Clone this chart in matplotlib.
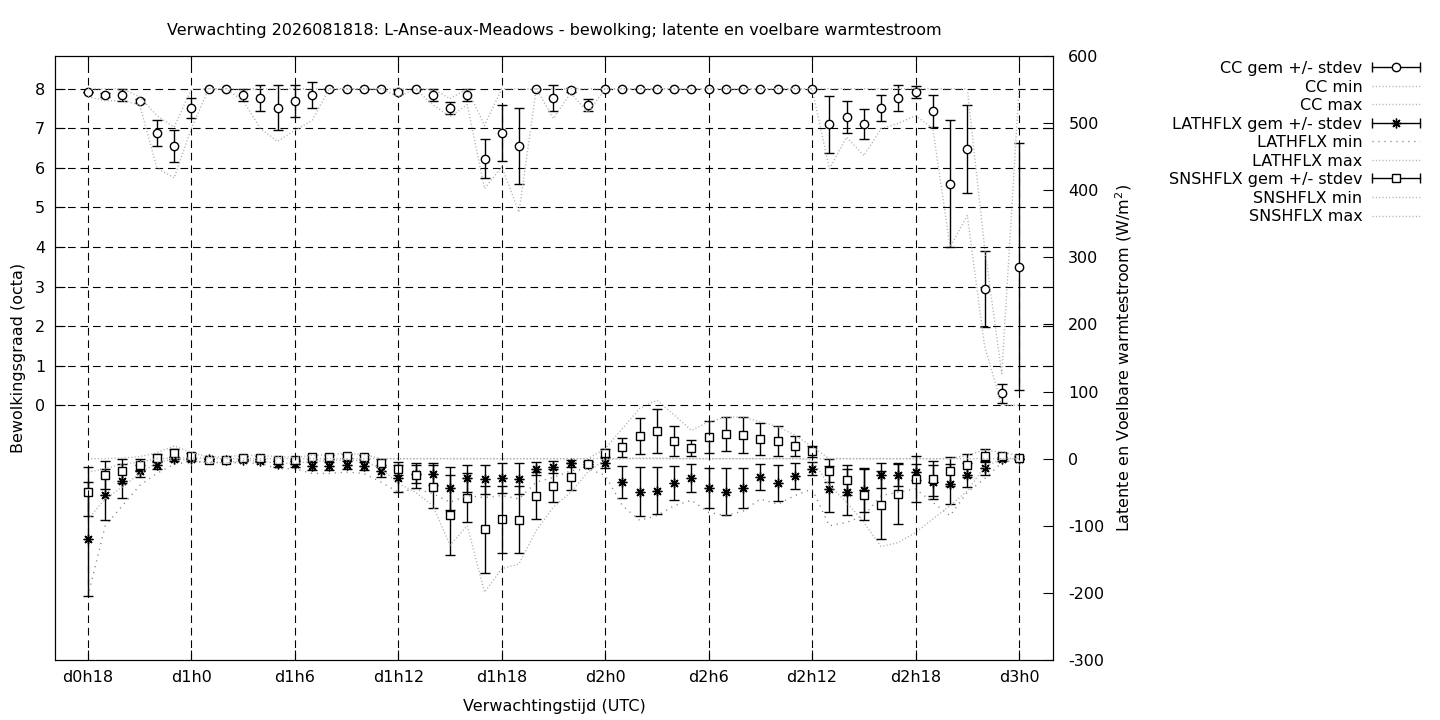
import matplotlib
matplotlib.use('Agg')
import matplotlib.pyplot as plt
from matplotlib.lines import Line2D
from matplotlib.legend_handler import HandlerBase
from matplotlib.container import ErrorbarContainer

plt.rcParams['font.family'] = ['DejaVu Sans']
plt.rcParams['font.size'] = 11.5
plt.rcParams['lines.scale_dashes'] = False
plt.rcParams['axes.unicode_minus'] = False

# uren sinds d0h0
uren = list(range(18, 73))

tick_uren = [18, 24, 30, 36, 42, 48, 54, 60, 66, 72]
tick_labels = ['d0h18', 'd1h0', 'd1h6', 'd1h12', 'd1h18', 'd2h0', 'd2h6', 'd2h12', 'd2h18', 'd3h0']

# bewolking (octa)
cc_gem = [7.93, 7.85, 7.85, 7.69, 6.89, 6.56, 7.52, 8.0, 8.0, 7.85, 7.77, 7.52, 7.69, 7.85, 8.0,
          8.0, 8.0, 8.0, 7.93, 8.0, 7.85, 7.52, 7.85, 6.23, 6.89, 6.56, 8.0, 7.77, 7.98, 7.59,
          8.0, 8.0, 8.0, 8.0, 8.0, 8.0, 8.0, 8.0, 8.0, 8.0, 8.0, 8.0, 8.0,
          7.11, 7.29, 7.11, 7.52, 7.77, 7.92, 7.44, 5.6, 6.48, 2.95, 0.30, 3.5]
cc_std = [0.0, 0.05, 0.15, 0.05, 0.33, 0.41, 0.26, 0.0, 0.0, 0.15, 0.33, 0.57, 0.41, 0.33, 0.0,
          0.0, 0.0, 0.0, 0.05, 0.0, 0.15, 0.15, 0.15, 0.49, 0.71, 0.96, 0.0, 0.33, 0.05, 0.15,
          0.0, 0.0, 0.0, 0.0, 0.0, 0.0, 0.0, 0.0, 0.0, 0.0, 0.0, 0.0, 0.0,
          0.72, 0.40, 0.39, 0.33, 0.33, 0.15, 0.41, 1.6, 1.11, 0.96, 0.24, 3.12]
cc_min = [7.8, 7.7, 7.7, 7.6, 6.0, 5.75, 7.0, 8.0, 8.0, 7.7, 7.0, 6.67, 6.95, 7.2, 8.0,
          8.0, 8.0, 8.0, 7.8, 8.0, 7.6, 7.3, 7.6, 5.48, 6.03, 4.88, 8.0, 7.25, 7.9, 7.4,
          8.0, 8.0, 8.0, 8.0, 8.0, 8.0, 8.0, 8.0, 8.0, 8.0, 8.0, 8.0, 8.0,
          5.98, 6.78, 6.31, 6.99, 7.13, 7.32, 7.0, 4.0, 4.8, 1.5, 0.0, 0.0]
cc_max = [8.0, 8.0, 8.0, 7.8, 7.32, 7.03, 8.0, 8.0, 8.0, 8.0, 8.0, 8.0, 8.0, 8.0, 8.0,
          8.0, 8.0, 8.0, 8.0, 8.0, 8.0, 7.75, 8.0, 7.07, 8.0, 8.0, 8.0, 8.0, 8.0, 8.0,
          8.0, 8.0, 8.0, 8.0, 8.0, 8.0, 8.0, 8.0, 8.0, 8.0, 8.0, 8.0, 8.0,
          8.0, 8.0, 8.0, 8.0, 8.0, 8.0, 8.0, 8.0, 8.0, 4.0, 0.8, 8.0]

# latente warmtestroom (W/m2)
lat_gem = [-120, -54, -33, -18, -9, -1, -1, -1, -2, -2, -3, -8, -8, -11.5, -11.5,
           -9, -11, -18, -29, -23, -23, -44, -29, -31, -29, -30, -15, -12, -7, -8,
           -6.5, -35, -49, -48, -36, -29, -44, -49, -44, -27, -36, -26, -15,
           -45, -50, -47, -25, -24, -20, -35, -38, -24, -14, -1, 0]
lat_std = [85, 38, 25, 9, 6, 3, 2, 2, 2, 2, 2, 4, 4, 6, 6,
           6, 6, 9, 20, 14, 16, 32, 20, 22, 22, 23, 10, 9, 5, 3,
           8, 24, 36, 35, 25, 21, 30, 35, 30, 19, 27, 19, 10,
           34, 34, 33, 18, 16, 12, 25, 30, 18, 10, 3, 1]
lat_min = [-205, -100, -70, -40, -22, -8, -5, -5, -6, -6, -7, -15, -15, -22, -22,
           -20, -22, -35, -50, -45, -52, -65, -55, -58, -55, -60, -35, -28, -18, -15,
           -25, -70, -92, -85, -70, -62, -80, -85, -78, -60, -68, -55, -45,
           -100, -95, -85, -55, -50, -45, -65, -85, -50, -30, -6, -1]
lat_max = [-20, -15, -8, -5, 0, 1, 1, 1, 0, 0, 0, 0, 0, 0, 0,
           0, 0, 0, 0, 0, 0, 0, 0, 0, 0, 0, 0, 0, 0, 0,
           0, 0, 0, 0, 0, 0, 0, 0, 0, 0, 0, 0, 0,
           0, 0, 0, 0, 0, 0, 0, 0, 0, 0, 0, 1]

# voelbare warmtestroom (W/m2)
sns_gem = [-49, -24, -18, -9, 1.5, 8, 4.5, -2, -2, 1.5, 1.5, -2, -2, 2, 3,
           4.5, 3, -6, -15, -25, -42, -84, -58, -105, -90, -91, -55, -40, -27, -8,
           9, 17, 34, 41, 26, 16, 32, 37, 35, 29, 26, 19, 11,
           -18, -32, -54, -69, -52, -30, -30, -19, -10, 4.5, 4.5, 1.5]
sns_std = [36, 21, 18, 8, 6, 6, 4, 2, 2, 2, 2, 2, 2, 3, 3,
           3, 3, 6, 10, 18, 32, 59, 36, 65, 50, 50, 35, 24, 20, 4,
           6, 14, 27, 33, 22, 12, 24, 25, 27, 24, 22, 15, 8,
           17, 22, 38, 50, 45, 34, 26, 22, 17, 10, 4, 2]
sns_min = [-90, -60, -42, -22, -6, 0, -3, -6, -6, -3, -3, -7, -7, -4, -3,
           -2, -3, -15, -37, -50, -70, -129, -100, -199, -164, -157, -107, -72, -50, -20,
           -1, 0, 1, 1, 0, 0, 0, 0, 0, 0, 0, 0, -2,
           -40, -65, -95, -131, -125, -110, -90, -70, -48, -12, -1, 0]
sns_max = [0, 0, 1, 3, 9, 19, 9, 3, 3, 5, 5, 3, 2, 5, 6,
           8, 6, 0, 0, 0, 0, 0, 0, 0, 0, 0, 0, 0, 0, 0,
           15, 45, 75, 87, 65, 42, 55, 62, 62, 55, 48, 35, 18,
           0, 0, 0, 0, 0, 0, 0, 0, 5, 13, 10, 4]


class GnuErrHandler(HandlerBase):
    # legendavoorbeeld zoals gnuplot: |---o---|
    def create_artists(self, legend, orig_handle, xdescent, ydescent,
                       width, height, fontsize, trans):
        y = height / 2 - ydescent
        x0, x1 = -xdescent, width - xdescent
        m = orig_handle.lines[0]
        lijn = Line2D([x0, x1], [y, y], color='black', lw=1)
        caps = Line2D([x0, x1], [y, y], ls='none', marker='|', ms=7, mew=1, color='black')
        mid = Line2D([(x0 + x1) / 2], [y], ls='none', marker=m.get_marker(),
                     ms=m.get_markersize(), mfc=m.get_markerfacecolor(), mec='black', mew=1)
        for a in (lijn, caps, mid):
            a.set_transform(trans)
        return [lijn, caps, mid]


def create_plot():
    fig = plt.figure(figsize=(14.4, 7.2), dpi=100)
    ax = fig.add_axes([55 / 1440, 1 - 660 / 720, 998 / 1440, 604 / 720])
    ax2 = ax.twinx()
    ax.set_zorder(ax2.get_zorder() + 1)
    ax.patch.set_visible(False)

    ax.set_xlim(16.09, 73.97)
    ax.set_ylim(-6.44, 8.83)
    ax2.set_ylim(-300, 600)

    licht = '#b0b0b0'
    dots = (0, (0.8, 1.6))
    eb_stijl = dict(linestyle='none', mec='black', mew=1, ecolor='black',
                    elinewidth=1, capsize=3.5, capthick=1, zorder=3)

    # bewolking
    cc_eb = ax.errorbar(uren, cc_gem, yerr=cc_std, marker='o', ms=6, mfc='white', **eb_stijl)
    cc_mn, = ax.plot(uren, cc_min, color=licht, lw=1, linestyle=dots, zorder=4)
    cc_mx, = ax.plot(uren, cc_max, color=licht, lw=1, linestyle=dots, zorder=4)

    # latente warmtestroom
    lat_eb = ax2.errorbar(uren, lat_gem, yerr=lat_std, marker=(8, 2, 0), ms=7, mfc='black', **eb_stijl)
    lat_mn, = ax2.plot(uren, lat_min, color='#808080', lw=1, linestyle=(0, (0.8, 3.5)), zorder=4)
    lat_mx, = ax2.plot(uren, lat_max, color=licht, lw=1, linestyle=dots, zorder=4)

    # voelbare warmtestroom
    sns_eb = ax2.errorbar(uren, sns_gem, yerr=sns_std, marker='s', ms=6, mfc='white', **eb_stijl)
    sns_mn, = ax2.plot(uren, sns_min, color=licht, lw=1, linestyle=dots, zorder=4)
    sns_mx, = ax2.plot(uren, sns_max, color=licht, lw=1, linestyle=dots, zorder=4)

    # assen
    ax.set_xticks(tick_uren)
    ax.set_xticklabels(tick_labels)
    ax.set_yticks(range(0, 9))
    ax2.set_yticks(range(-300, 601, 100))
    ax.grid(True, color='black', lw=0.8, linestyle=(0, (5.5, 3.5)))
    ax.tick_params(direction='in', top=True, right=True, length=7, width=0.8, pad=7)
    ax2.tick_params(direction='in', length=7, width=0.8, pad=11)
    for a in (ax, ax2):
        for s in a.spines.values():
            s.set_linewidth(0.8)

    ax.set_title('Verwachting 2026081818: L-Anse-aux-Meadows - bewolking; latente en voelbare warmtestroom',
                 fontsize=11.5, pad=15)
    ax.set_xlabel('Verwachtingstijd (UTC)')
    ax.set_ylabel('Bewolkingsgraad (octa)')
    ax2.set_ylabel('Latente en Voelbare warmtestroom (W/m$^2$)')
    ax.xaxis.set_label_coords(0.5, -0.064)
    ax.yaxis.set_label_coords(-0.029, 0.5)
    ax2.yaxis.set_label_coords(1.060, 0.5)

    handles = [cc_eb, cc_mn, cc_mx, lat_eb, lat_mn, lat_mx, sns_eb, sns_mn, sns_mx]
    labels = ['CC gem +/- stdev', 'CC min', 'CC max',
              'LATHFLX gem +/- stdev', 'LATHFLX min', 'LATHFLX max',
              'SNSHFLX gem +/- stdev', 'SNSHFLX min', 'SNSHFLX max']
    fig.legend(handles, labels, loc='upper right', bbox_to_anchor=(1420 / 1440, 1 - 61 / 720),
               frameon=False, markerfirst=False, handlelength=3.0, handletextpad=0.6,
               labelspacing=0.22, borderaxespad=0, borderpad=0, fontsize=11.5,
               handler_map={ErrorbarContainer: GnuErrHandler()})

    fig.savefig('out.png', dpi=100)


if __name__ == "__main__":
    create_plot()
